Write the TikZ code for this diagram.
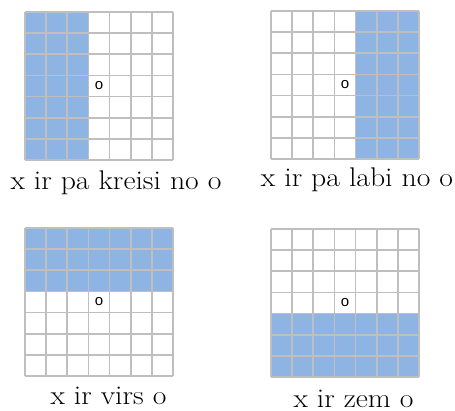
\documentclass[tikz,border=0pt]{standalone}
\usepackage{fontspec}
\newfontfamily\gridfont{Liberation Sans}
\definecolor{cellblue}{HTML}{8EB4E3}
\definecolor{gridgray}{HTML}{BFBFBF}
\tikzset{
  gridline/.style={draw=gridgray, line width=1.6pt},
  shade/.style={fill=cellblue, draw=none},
  omark/.style={font=\gridfont\fontsize{15}{15}\selectfont, inner sep=0pt},
  caption/.style={font=\fontsize{27}{30}\selectfont, anchor=base, inner sep=0pt, transform shape, xscale=1.1},
  cellgrid/.pic={
    \foreach \k in {0,...,7}{
      \draw[gridline] (\k*21.143,0) -- (\k*21.143,148);
      \draw[gridline] (0,\k*21.143) -- (148,\k*21.143);
    }
  }
}
\begin{document}
\begin{tikzpicture}[x=1pt,y=-1pt]
\useasboundingbox (0,0) rectangle (455,411);
% grid 1: left shaded
\begin{scope}[shift={(25,12)}]
  \fill[shade] (0,0) rectangle (63.43,148);
  \pic {cellgrid};
  \node[omark] (o1) at (74,74) {o};
\end{scope}
% grid 2: right shaded
\begin{scope}[shift={(271,11)}]
  \fill[shade] (84.57,0) rectangle (148,148);
  \pic {cellgrid};
  \node[omark] (o2) at (74,74) {o};
\end{scope}
% grid 3: top shaded
\begin{scope}[shift={(25,228)}]
  \fill[shade] (0,0) rectangle (148,63.43);
  \pic {cellgrid};
  \node[omark] (o3) at (74,74) {o};
\end{scope}
% grid 4: bottom shaded
\begin{scope}[shift={(271,229)}]
  \fill[shade] (0,84.57) rectangle (148,148);
  \pic {cellgrid};
  \node[omark] (o4) at (74,74) {o};
\end{scope}
\node[caption] (c1) at (116,190) {x ir pa kreisi no o};
\node[caption] (c2) at (357,187) {x ir pa labi no o};
\node[caption] (c3) at (108.5,404) {x ir virs o};
\node[caption] (c4) at (353.5,407) {x ir zem o};
\end{tikzpicture}
\end{document}
